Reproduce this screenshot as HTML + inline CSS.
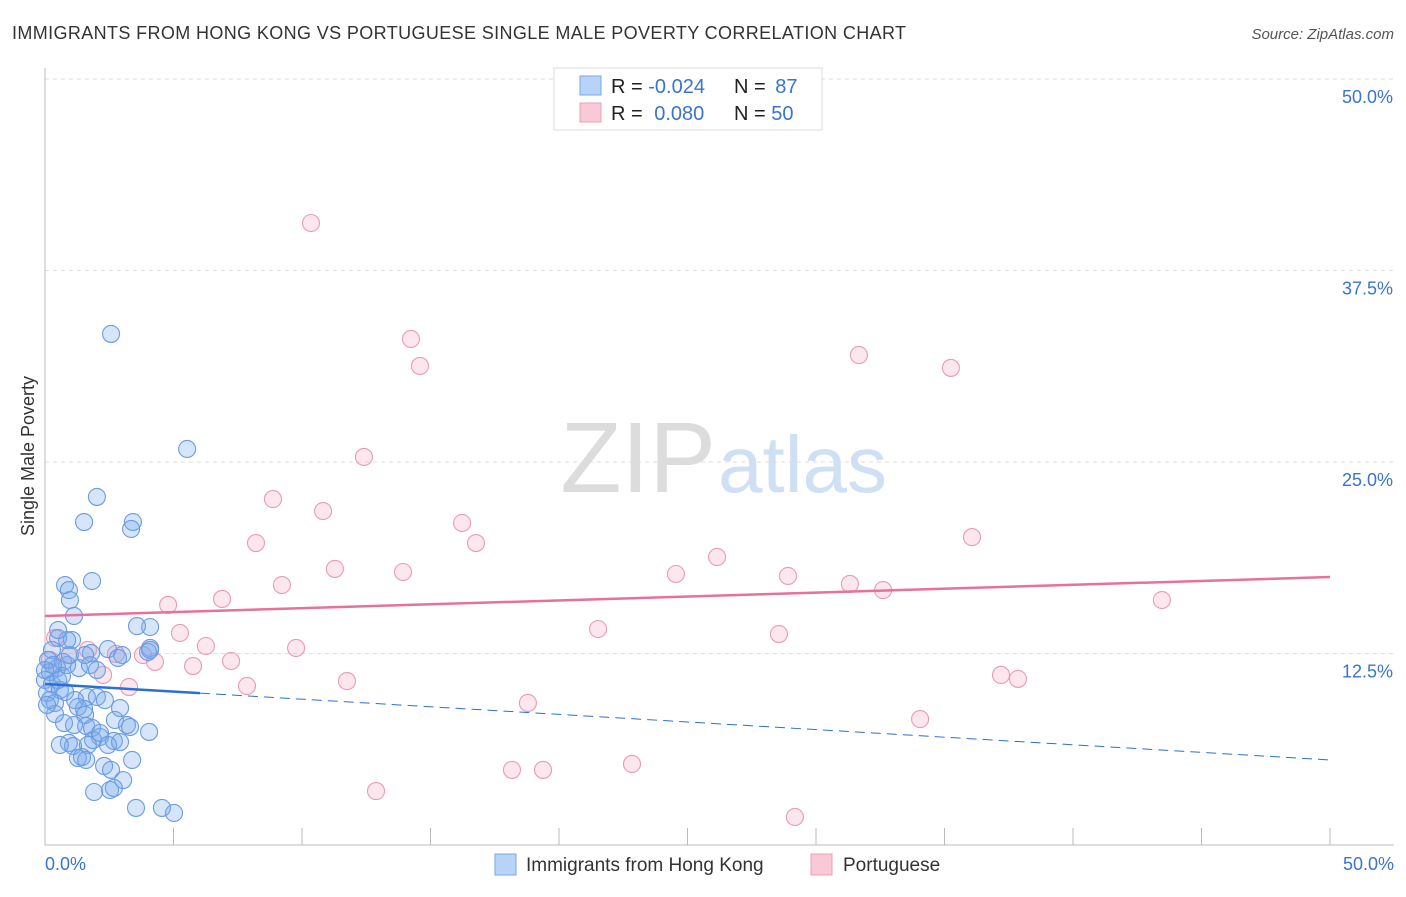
<!DOCTYPE html>
<html><head><meta charset="utf-8"><style>
body{margin:0;background:#fff;font-family:"Liberation Sans",sans-serif}
svg text{font-family:"Liberation Sans",sans-serif}
</style></head><body>
<svg id="chart" width="1406" height="892" viewBox="0 0 1406 892">
<text x="12" y="39" font-size="18" fill="#333" textLength="894">IMMIGRANTS FROM HONG KONG VS PORTUGUESE SINGLE MALE POVERTY CORRELATION CHART</text>
<text x="1394" y="39" font-size="15" fill="#555" font-style="italic" text-anchor="end">Source: ZipAtlas.com</text>
<text x="716" y="492" font-size="100" fill="#dcdcdc" text-anchor="end" font-family="Liberation Serif">ZIP</text>
<text x="718" y="492" font-size="80" fill="#cfe0f5">atlas</text>
<g id="grid"></g>
<g id="axes"></g>
<g id="marks"></g>
<text x="34" y="456" font-size="18" fill="#333" transform="rotate(-90 34 456)" text-anchor="middle">Single Male Poverty</text>
<g>
<rect x="554" y="68" width="268" height="62" fill="#fff" stroke="#ddd"/>
<rect x="580" y="76" width="21" height="19" fill="#b7d3f7" stroke="#7aa7e6"/>
<rect x="580" y="103" width="21" height="19" fill="#f9c9d7" stroke="#eba0b7"/>
<text x="611" y="93" font-size="20" fill="#222">R = <tspan fill="#3a74d0">-0.024</tspan></text>
<text x="734" y="93" font-size="20" fill="#222">N = <tspan fill="#3a74d0" dx="4">87</tspan></text>
<text x="611" y="120" font-size="20" fill="#222">R = <tspan fill="#3a74d0" dx="6">0.080</tspan></text>
<text x="734" y="120" font-size="20" fill="#222">N = <tspan fill="#3a74d0">50</tspan></text>
</g>
<g>
<rect x="495" y="854" width="21" height="21" fill="#b7d3f7" stroke="#7aa7e6"/>
<text x="526" y="871" font-size="19" fill="#333">Immigrants from Hong Kong</text>
<rect x="811" y="854" width="21" height="21" fill="#f9c9d7" stroke="#eba0b7"/>
<text x="843" y="871" font-size="19" fill="#333">Portuguese</text>
</g>
</svg>
<script>
const yTicks=[12.5,25.0,37.5,50.0];
const xTickLabels=["0.0%","50.0%"];
const blueX=[2.57,5.53,2.02,1.52,3.42,3.35,1.83,0.78,0.93,0.97,1.13,4.09,3.58,0.51,1.05,2.45,1.79,3.00,4.09,4.01,2.84,0.27,0.12,0.70,1.32,0.47,0.19,1.75,0.86,0,0.27,0.08,0.58,0.78,1.63,2.02,0.39,0.19,1.28,1.52,2.92,1.56,2.72,0.74,1.13,1.60,1.83,3.19,3.31,4.05,2.14,1.87,0.93,1.09,2.68,1.67,1.44,1.28,2.30,3.39,2.57,3.04,1.91,2.53,2.68,3.54,4.55,5.02,0.39,0.58,0.08,0.51,0.66,0.97,1.17,2.14,2.45,0,0.31,0.86,1.56,2.02,2.33,2.92,0.51,4.09,1.60];
const blueY=[33.36,25.85,22.72,21.08,21.08,20.63,17.23,16.97,16.64,15.99,14.95,14.23,14.29,13.51,13.38,12.79,12.53,12.40,12.86,12.60,12.21,12.73,12.08,11.95,11.55,11.55,11.29,11.75,11.75,10.77,10.51,9.92,10.12,9.99,9.66,9.66,9.27,9.46,9.01,8.88,8.94,8.49,8.16,7.96,7.83,7.77,7.64,7.83,7.70,7.38,7.05,6.85,6.66,6.46,6.79,6.53,5.74,5.68,5.16,5.55,4.90,4.24,3.46,3.59,3.72,2.42,2.42,2.09,8.55,6.53,9.14,10.77,11.03,12.40,9.46,7.31,6.53,11.42,11.75,13.38,12.40,11.42,9.46,6.72,14.03,12.73,5.55];
const pinkX=[10.35,14.24,14.59,31.67,35.25,12.41,8.87,10.82,16.23,16.77,8.21,36.07,11.28,13.93,26.15,24.55,28.91,31.32,32.61,9.22,6.89,4.79,43.46,5.25,21.52,28.56,6.26,9.77,3.81,2.76,0.39,0.89,7.24,5.76,4.28,2.26,11.75,3.27,7.86,37.20,37.86,18.79,34.05,18.17,19.38,22.84,12.88,29.18,0.19,1.67];
const pinkY=[40.60,33.03,31.27,31.98,31.14,25.33,22.58,21.80,21.02,19.71,19.71,20.10,18.02,17.82,18.80,17.69,17.56,17.04,16.64,16.97,16.06,15.67,15.99,13.84,14.10,13.77,12.99,12.86,12.40,12.47,13.51,12.40,12.01,11.68,11.95,11.10,10.70,10.31,10.38,11.10,10.84,9.27,8.22,4.90,4.90,5.29,3.52,1.83,12.08,12.73];
const pinkTrend=[14.95,17.49];
const blueTrend=[10.51,5.55];
const blueSolidEnd=6.03;
const NS="http://www.w3.org/2000/svg";
const sx=v=>45+v*25.7, sy=v=>845-v*15.32;
function mk(p,t,a){const e=document.createElementNS(NS,t);for(const k in a)e.setAttribute(k,a[k]);p.appendChild(e);return e;}
const grid=document.getElementById('grid'),axes=document.getElementById('axes'),marks=document.getElementById('marks');
yTicks.forEach(v=>{
 const l=mk(grid,'line',{x1:45,x2:1394,y1:sy(v),y2:sy(v),stroke:'#ddd','stroke-dasharray':'4 4'});
 
 
 const t=mk(grid,'text',{x:1393,y:sy(v)+24,'font-size':18,fill:'#3a74d0','text-anchor':'end'});
 t.textContent=v.toFixed(1)+'%';
 
 
});
mk(axes,'line',{x1:45,x2:45,y1:68,y2:845,stroke:'#bbb'});
mk(axes,'line',{x1:45,x2:1394,y1:845,y2:845,stroke:'#bbb'});
for(let i=0;i<=10;i++){const l=mk(axes,'line',{x1:sx(i*5),x2:sx(i*5),y1:828,y2:845,stroke:'#bbb'});
 
 }
const xl0=mk(axes,'text',{x:45,y:870,'font-size':18,fill:'#3a74d0'});xl0.textContent=xTickLabels[0];


const xl1=mk(axes,'text',{x:1394,y:870,'font-size':18,fill:'#3a74d0','text-anchor':'end'});xl1.textContent=xTickLabels[1];


pinkX.forEach((x,i)=>{const c=mk(marks,'circle',{cx:sx(x),cy:sy(pinkY[i]),r:8.5,fill:'rgba(246,175,198,0.3)',stroke:'#eb9ab4','stroke-width':1.1});
 
 });
blueX.forEach((x,i)=>{const c=mk(marks,'circle',{cx:sx(x),cy:sy(blueY[i]),r:8.5,fill:'rgba(120,170,235,0.3)',stroke:'#6b9be3','stroke-width':1.1});
 
 });
const pt=mk(marks,'line',{x1:sx(0),y1:sy(pinkTrend[0]),x2:sx(50),y2:sy(pinkTrend[1]),stroke:'#e8709a','stroke-width':2.5});


const bAt=x=>blueTrend[0]+(blueTrend[1]-blueTrend[0])*x/50;
const bs=mk(marks,'line',{x1:sx(0),y1:sy(bAt(0)),x2:sx(blueSolidEnd),y2:sy(bAt(blueSolidEnd)),stroke:'#2a6fd6','stroke-width':2.5});


const bd=mk(marks,'line',{x1:sx(blueSolidEnd),y1:sy(bAt(blueSolidEnd)),x2:sx(50),y2:sy(bAt(50)),stroke:'#2a6fd6','stroke-width':1,'stroke-dasharray':'10 6'});


</script>
</body></html>
